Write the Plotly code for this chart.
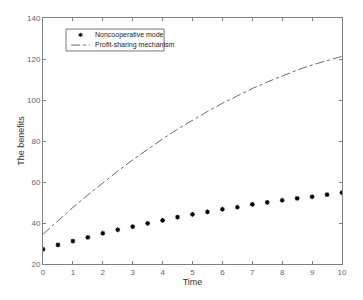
import plotly.graph_objects as go

time_marks = [0, 0.5, 1, 1.5, 2, 2.5, 3, 3.5, 4, 4.5, 5, 5.5, 6, 6.5, 7, 7.5, 8, 8.5, 9, 9.5, 10]
noncoop = [27.2, 29.3, 31.2, 33.0, 35.0, 36.7, 38.2, 39.8, 41.3, 42.9, 44.2, 45.4, 46.7, 47.7,
           49.1, 50.1, 51.1, 52.0, 52.8, 53.8, 54.8]
profit_sharing = [34.5, 41.2, 47.6, 53.7, 59.6, 65.3, 70.8, 76.0, 81.0, 85.8, 90.2, 94.4, 98.4,
                  102.1, 105.6, 108.8, 111.8, 114.6, 117.1, 119.3, 121.3]
series_names = ["Noncooperative mode", "Profit-sharing mechanism"]
x_ticks = list(range(0, 11))
y_ticks = [20, 40, 60, 80, 100, 120, 140]

FONT = "Liberation Sans, Arial"

fig = go.Figure()
fig.add_trace(go.Scatter(
    x=time_marks, y=noncoop, mode="markers", name=series_names[0],
    marker=dict(symbol="asterisk-open", size=4, color="black", line=dict(color="black", width=1.1)),
))
fig.add_trace(go.Scatter(
    x=time_marks, y=profit_sharing, mode="lines", name=series_names[1],
    line=dict(color="#444444", width=0.8, dash="dashdot"),
))

axis_common = dict(
    showgrid=False, zeroline=False, showline=True, linecolor="#808080", linewidth=1,
    mirror="ticks", ticks="inside", ticklen=3, tickcolor="#808080", automargin=False,
    tickfont=dict(family=FONT, size=8, color="#666666"),
)
fig.update_xaxes(range=[0, 10], tickvals=x_ticks,
                 title=dict(text="Time", font=dict(family=FONT, size=9, color="#333333"), standoff=2),
                 **axis_common)
fig.update_yaxes(range=[20, 140], tickvals=y_ticks,
                 title=dict(text="The benefits", font=dict(family=FONT, size=9, color="#333333"), standoff=0),
                 **axis_common)

# manual legend (compact, MATLAB style)
lx0, lx1, ly0, ly1 = 0.077, 0.405, 0.866, 0.955
fig.add_shape(type="rect", xref="paper", yref="paper", x0=lx0, x1=lx1, y0=ly0, y1=ly1,
              line=dict(color="#555555", width=0.8), fillcolor="white", layer="above")
fig.add_shape(type="line", xref="paper", yref="paper", x0=0.094, x1=0.157, y0=0.89, y1=0.89,
              line=dict(color="#444444", width=0.8, dash="dashdot"), layer="above")
fig.add_annotation(xref="paper", yref="paper", x=0.127, y=0.931, text="✱", showarrow=False,
                   font=dict(family="DejaVu Sans", size=6, color="black"), xanchor="center", yanchor="middle")
for name, yy in zip(series_names, [0.931, 0.89]):
    fig.add_annotation(xref="paper", yref="paper", x=0.167, y=yy, text=name, showarrow=False,
                       font=dict(family=FONT, size=7, color="#222222"), xanchor="left", yanchor="middle")

# page body has an 8px margin, so the figure is shrunk and offset accordingly
fig.update_layout(
    width=355, height=292,
    margin=dict(l=35, r=21, t=10, b=36),
    paper_bgcolor="white", plot_bgcolor="white",
    showlegend=False,
)

fig.write_html("out.html")
